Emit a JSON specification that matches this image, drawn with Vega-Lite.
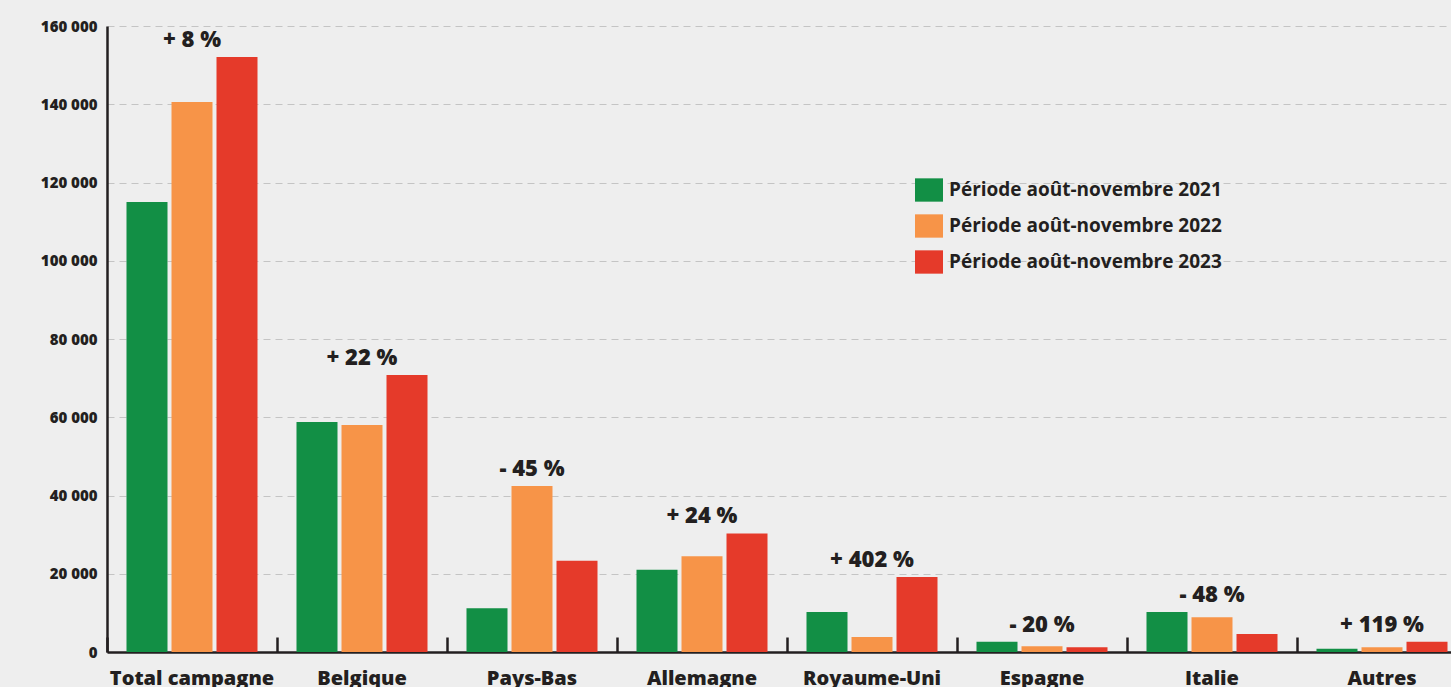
{
  "$schema": "https://vega.github.io/schema/vega-lite/v6.json",
  "width": 1360,
  "height": 626,
  "autosize": {"type": "none"},
  "padding": {"left": 107, "top": 26, "right": 0, "bottom": 35},
  "background": "#eeeeee",
  "config": {"view": {"stroke": null}, "font": "Open Sans"},
  "data": {
    "values": [
      {"pays": "Total campagne", "periode": "Période août-novembre 2021", "valeur": 115000, "variation": "+ 8 %"},
      {"pays": "Total campagne", "periode": "Période août-novembre 2022", "valeur": 140600, "variation": "+ 8 %"},
      {"pays": "Total campagne", "periode": "Période août-novembre 2023", "valeur": 152100, "variation": "+ 8 %"},
      {"pays": "Belgique", "periode": "Période août-novembre 2021", "valeur": 58800, "variation": "+ 22 %"},
      {"pays": "Belgique", "periode": "Période août-novembre 2022", "valeur": 58000, "variation": "+ 22 %"},
      {"pays": "Belgique", "periode": "Période août-novembre 2023", "valeur": 70800, "variation": "+ 22 %"},
      {"pays": "Pays-Bas", "periode": "Période août-novembre 2021", "valeur": 11200, "variation": "- 45 %"},
      {"pays": "Pays-Bas", "periode": "Période août-novembre 2022", "valeur": 42400, "variation": "- 45 %"},
      {"pays": "Pays-Bas", "periode": "Période août-novembre 2023", "valeur": 23300, "variation": "- 45 %"},
      {"pays": "Allemagne", "periode": "Période août-novembre 2021", "valeur": 21000, "variation": "+ 24 %"},
      {"pays": "Allemagne", "periode": "Période août-novembre 2022", "valeur": 24500, "variation": "+ 24 %"},
      {"pays": "Allemagne", "periode": "Période août-novembre 2023", "valeur": 30300, "variation": "+ 24 %"},
      {"pays": "Royaume-Uni", "periode": "Période août-novembre 2021", "valeur": 10200, "variation": "+ 402 %"},
      {"pays": "Royaume-Uni", "periode": "Période août-novembre 2022", "valeur": 3830, "variation": "+ 402 %"},
      {"pays": "Royaume-Uni", "periode": "Période août-novembre 2023", "valeur": 19200, "variation": "+ 402 %"},
      {"pays": "Espagne", "periode": "Période août-novembre 2021", "valeur": 2600, "variation": "- 20 %"},
      {"pays": "Espagne", "periode": "Période août-novembre 2022", "valeur": 1500, "variation": "- 20 %"},
      {"pays": "Espagne", "periode": "Période août-novembre 2023", "valeur": 1200, "variation": "- 20 %"},
      {"pays": "Italie", "periode": "Période août-novembre 2021", "valeur": 10200, "variation": "- 48 %"},
      {"pays": "Italie", "periode": "Période août-novembre 2022", "valeur": 8900, "variation": "- 48 %"},
      {"pays": "Italie", "periode": "Période août-novembre 2023", "valeur": 4600, "variation": "- 48 %"},
      {"pays": "Autres", "periode": "Période août-novembre 2021", "valeur": 800, "variation": "+ 119 %"},
      {"pays": "Autres", "periode": "Période août-novembre 2022", "valeur": 1200, "variation": "+ 119 %"},
      {"pays": "Autres", "periode": "Période août-novembre 2023", "valeur": 2620, "variation": "+ 119 %"}
    ]
  },
  "encoding": {
    "x": {
      "field": "pays",
      "type": "nominal",
      "sort": ["Total campagne", "Belgique", "Pays-Bas", "Allemagne", "Royaume-Uni", "Espagne", "Italie", "Autres"],
      "scale": {"paddingInner": 0, "paddingOuter": 0},
      "title": null,
      "axis": {
        "domainColor": "#231f20",
        "domainWidth": 2.5,
        "ticks": true,
        "tickColor": "#231f20",
        "tickWidth": 2.5,
        "tickSize": -15,
        "bandPosition": 0,
        "labelPadding": 31,
        "labelFontSize": 20,
        "labelFontWeight": 800,
        "labelColor": "#231f20",
        "labelAngle": 0,
        "grid": false
      }
    }
  },
  "layer": [
    {
      "mark": {"type": "bar"},
      "encoding": {
        "xOffset": {
          "field": "periode",
          "type": "nominal",
          "scale": {"paddingInner": 0.089, "paddingOuter": 0.433}
        },
        "y": {
          "field": "valeur",
          "type": "quantitative",
          "title": null,
          "scale": {"domain": [0, 160000], "nice": false},
          "axis": {
            "values": [0, 20000, 40000, 60000, 80000, 100000, 120000, 140000, 160000],
            "labelExpr": "replace(format(datum.value, ','), ',', ' ')",
            "domainColor": "#231f20",
            "domainWidth": 2.5,
            "ticks": false,
            "labelPadding": 10,
            "labelFontSize": 15,
            "labelFontWeight": 800,
            "labelColor": "#231f20",
            "gridColor": "#c4c4c4",
            "gridDash": [7, 5],
            "gridWidth": 1
          }
        },
        "color": {
          "field": "periode",
          "type": "nominal",
          "scale": {
            "domain": ["Période août-novembre 2021", "Période août-novembre 2022", "Période août-novembre 2023"],
            "range": ["#128f45", "#f79448", "#e53a2a"]
          },
          "legend": {
            "title": null,
            "orient": "none",
            "legendX": 810,
            "legendY": 152,
            "symbolType": "M-1.2,-1L1.2,-1L1.2,1L-1.2,1Z",
            "symbolSize": 544,
            "symbolStrokeWidth": 0,
            "symbolOpacity": 1,
            "labelFontSize": 19,
            "labelFontWeight": "bold",
            "labelColor": "#231f20",
            "labelOffset": 8,
            "rowPadding": 12,
            "labelLimit": 400
          }
        }
      }
    },
    {
      "transform": [
        {"joinaggregate": [{"op": "max", "field": "valeur", "as": "maxv"}], "groupby": ["pays"]},
        {"filter": "datum.periode == 'Période août-novembre 2022'"}
      ],
      "mark": {"type": "text", "fontSize": 22, "fontWeight": 800, "color": "#231f20", "baseline": "alphabetic", "dy": -10},
      "encoding": {
        "y": {"field": "maxv", "type": "quantitative"},
        "text": {"field": "variation", "type": "nominal"}
      }
    }
  ]
}
